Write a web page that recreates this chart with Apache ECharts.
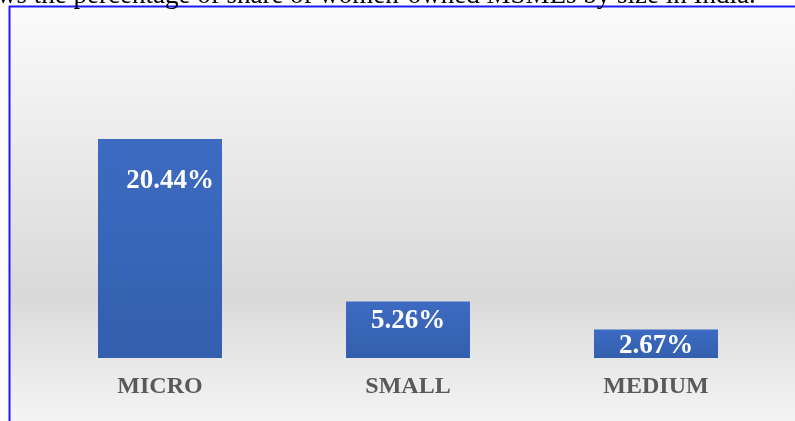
<!DOCTYPE html>
<html><head><meta charset="utf-8">
<script src="https://cdn.jsdelivr.net/npm/echarts@6/dist/echarts.min.js"></script>
<style>html,body{margin:0;padding:0;background:#fff}#c{width:795px;height:421px}</style>
</head><body><div id="c"></div>
<script>
const categories = ['MICRO', 'SMALL', 'MEDIUM'];
const values = [20.44, 5.26, 2.67];
const valueLabels = ['20.44%', '5.26%', '2.67%'];
const captionText = 'ws the percentage of share of women-owned MSMEs by size in India.';

const labelOffsets = [[10, 29], [0, 6], [0, 3]];

const chart = echarts.init(document.getElementById('c'));
chart.setOption({
  animation: false,
  graphic: [
    { type: 'rect', z: -10, silent: true, shape: { x: 10, y: 7, width: 800, height: 430 },
      style: { stroke: null, fill: new echarts.graphic.LinearGradient(0, 0, 0, 1, [
        { offset: 0, color: '#fbfbfb' },
        { offset: 0.67, color: '#d9d9d9' },
        { offset: 1, color: '#f8f8f8' }
      ]) } },
    { type: 'line', z: 10, shape: { x1: 9, y1: 6.5, x2: 810, y2: 6.5 }, style: { stroke: '#1a1aff', lineWidth: 2 } },
    { type: 'line', z: 10, shape: { x1: 9.5, y1: 6, x2: 9.5, y2: 430 }, style: { stroke: '#1a1aff', lineWidth: 2 } },
    { type: 'text', z: 10,
      style: { x: -3, y: 9, text: captionText, verticalAlign: 'bottom',
        font: '27px "Liberation Serif", serif', fill: '#000' } }
  ],
  grid: { left: 36, right: 15, top: 90, bottom: 63 },
  xAxis: {
    type: 'category', data: categories,
    axisLine: { show: false }, axisTick: { show: false },
    axisLabel: { margin: 17, color: '#595959', fontFamily: 'Liberation Serif', fontWeight: 'bold', fontSize: 24 }
  },
  yAxis: { type: 'value', min: 0, max: 25, show: false, splitLine: { show: false } },
  series: [{
    type: 'bar', barWidth: 124,
    data: values.map((v, i) => ({
      value: v,
      label: { offset: labelOffsets[i], formatter: valueLabels[i] }
    })),
    itemStyle: { color: new echarts.graphic.LinearGradient(0, 0, 0, 1, [
      { offset: 0, color: '#3d6bc2' }, { offset: 1, color: '#345fae' }
    ]) },
    label: { show: true, position: 'insideTop', distance: 0, color: '#fff',
      fontFamily: 'Liberation Serif', fontWeight: 'bold', fontSize: 27 }
  }]
});
</script></body></html>
